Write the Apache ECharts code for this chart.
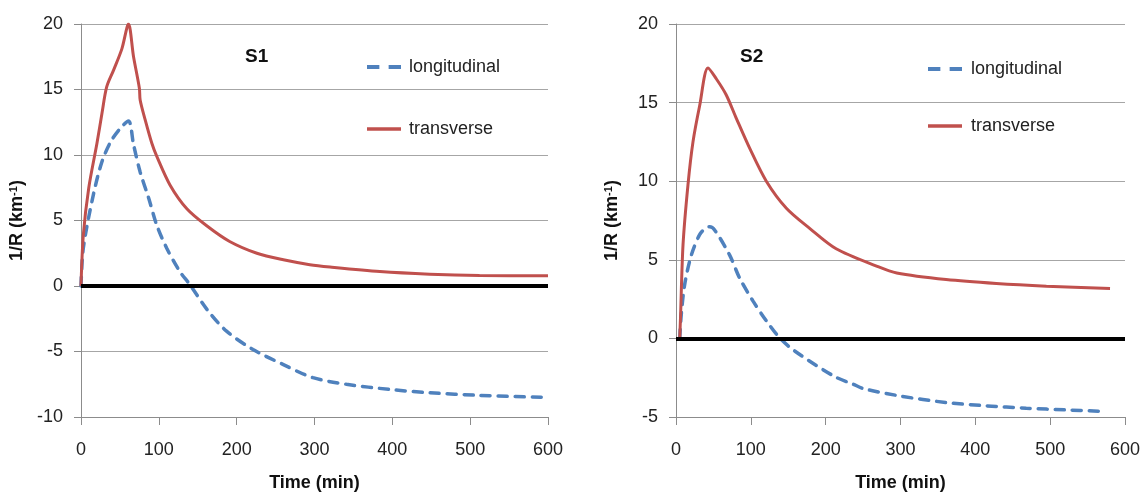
<!DOCTYPE html>
<html>
<head>
<meta charset="utf-8">
<script src="https://cdn.jsdelivr.net/npm/echarts@6/dist/echarts.min.js"></script>
<style>
  html, body { margin: 0; padding: 0; background: #fff; }
  #main { width: 1146px; height: 497px; }
</style>
</head>
<body>
<div id="main"></div>
<script>
// S1 panel
var s1LongTime = [0, 3, 16, 27, 38, 50, 61, 67.5, 76, 87, 97, 110, 127, 140, 162, 187, 221, 260, 298, 341, 397, 448, 512, 593];
var s1Long     = [0, 2.9, 7.0, 9.5, 11.0, 12.0, 12.6, 10.8, 8.7, 6.7, 4.7, 2.9, 1.1, 0.1, -1.8, -3.45, -4.85, -6.0, -7.0, -7.5, -7.9, -8.15, -8.35, -8.5];
var s1TransTime = [0, 3, 10, 20.5, 27, 33, 42, 52.5, 61, 67.5, 75, 76, 82.4, 91, 97.4, 114.5, 136, 161.5, 191, 226, 260, 294, 320, 384, 448, 512, 600];
var s1Trans     = [0, 3.9, 7.5, 10.9, 13.2, 15.2, 16.5, 18.1, 20.0, 17.5, 15.1, 14.2, 12.7, 10.9, 9.9, 7.7, 5.9, 4.6, 3.4, 2.5, 2.0, 1.63, 1.45, 1.1, 0.9, 0.8, 0.78];

// S2 panel
var s2LongTime = [5, 7, 11.5, 20.5, 31.6, 40.5, 45, 51.6, 71.7, 85, 103, 121, 138.5, 158.6, 211, 237, 251, 299, 361, 415, 468, 522, 566];
var s2Long     = [0, 1.5, 3.4, 5.3, 6.6, 7.06, 7.1, 6.9, 5.3, 3.84, 2.37, 1.1, 0.04, -0.8, -2.4, -2.92, -3.2, -3.66, -4.08, -4.29, -4.44, -4.55, -4.63];
var s2TransTime = [5, 6, 9.4, 16, 22.7, 31.6, 42.8, 54, 67, 80.6, 98.4, 120.7, 147.5, 178.6, 214, 268, 295, 361, 428, 495, 580];
var s2Trans     = [0, 1.3, 5.96, 9.77, 12.5, 14.8, 17.2, 16.5, 15.5, 14.0, 12.1, 10.0, 8.28, 7.0, 5.7, 4.6, 4.16, 3.74, 3.49, 3.32, 3.17];

var timeTicks = [0, 100, 200, 300, 400, 500, 600];
var panelTitles = ['S1', 'S2'];
var seriesNames = ['longitudinal', 'transverse'];

function pairs(xs, ys) {
    return xs.map(function (x, i) { return [x, ys[i]]; });
}

var FONT = '"Liberation Sans", Arial, sans-serif';
var gridColor = '#a6a6a6';
var blue = '#4f81bd', red = '#c0504d';
var dashIcon = 'path://M0,0H12V4H0Z M21,0H33V4H21Z';
var solidIcon = 'path://M0,0H38V4H0Z';

function xAxisFor(idx) {
    return {
        gridIndex: idx, type: 'value',
        min: timeTicks[0], max: timeTicks[timeTicks.length - 1], interval: 100,
        name: 'Time (min)', nameLocation: 'middle', nameGap: 57,
        nameTextStyle: { fontFamily: FONT, fontSize: 18, fontWeight: 'bold', color: '#111' },
        axisLine: { show: true, onZero: false, lineStyle: { color: '#8c8c8c', width: 1 } },
        axisTick: { show: true, length: 8, lineStyle: { color: '#8c8c8c' } },
        axisLabel: { fontFamily: FONT, fontSize: 18, color: '#222', margin: 24 },
        splitLine: { show: false }
    };
}

function yAxisFor(idx, min) {
    return {
        gridIndex: idx, type: 'value', min: min, max: 20, interval: 5,
        name: '1/R (km{sup|-1})', nameLocation: 'middle', nameGap: 54,
        nameTextStyle: {
            fontFamily: FONT, fontSize: 18, fontWeight: 'bold', color: '#111',
            rich: { sup: { fontFamily: FONT, fontSize: 11, fontWeight: 'bold', color: '#111', verticalAlign: 'top', padding: [0, 0, 8, 0] } }
        },
        axisLine: { show: true, lineStyle: { color: '#8c8c8c', width: 1 } },
        axisTick: { show: true, length: 7, lineStyle: { color: '#8c8c8c' } },
        axisLabel: { fontFamily: FONT, fontSize: 18, color: '#222', margin: 18 },
        splitLine: { show: true, lineStyle: { color: gridColor, width: 1 } }
    };
}

function longSeries(idx, data) {
    return {
        name: seriesNames[0], type: 'line', xAxisIndex: idx, yAxisIndex: idx,
        data: data, showSymbol: false, symbol: 'none', silent: true,
        smooth: 0.3,
        itemStyle: { color: blue },
        lineStyle: { color: blue, width: 3.5, type: [9, 8], cap: 'round' }
    };
}

function transSeries(idx, data) {
    return {
        name: seriesNames[1], type: 'line', xAxisIndex: idx, yAxisIndex: idx,
        data: data, showSymbol: false, symbol: 'none', silent: true,
        smooth: 0.3,
        itemStyle: { color: red },
        lineStyle: { color: red, width: 3 },
        markLine: {
            silent: true, symbol: 'none', label: { show: false },
            lineStyle: { color: '#000', width: 4, type: 'solid' },
            data: [{ yAxis: 0 }]
        }
    };
}

function legendFor(left, top, gap, textPad) {
    return {
        left: left, top: top, orient: 'vertical', itemGap: gap,
        itemWidth: 34, itemHeight: 14, itemStyle: { borderWidth: 0 },
        textStyle: { fontFamily: FONT, fontSize: 18, color: '#222', padding: [0, 0, 0, textPad] },
        data: [
            { name: seriesNames[0], icon: dashIcon },
            { name: seriesNames[1], icon: solidIcon }
        ],
        selectedMode: false
    };
}

var ec = echarts.init(document.getElementById('main'), null, { renderer: 'canvas' });
ec.setOption({
    animation: false,
    backgroundColor: '#fff',
    title: [
        { text: panelTitles[0], left: 240, top: 42, textStyle: { fontFamily: FONT, fontSize: 19, fontWeight: 'bold', color: '#111' } },
        { text: panelTitles[1], left: 735, top: 42, textStyle: { fontFamily: FONT, fontSize: 19, fontWeight: 'bold', color: '#111' } }
    ],
    legend: [legendFor(362, 53, 44, 3), legendFor(923, 55, 39, 4)],
    grid: [
        { left: 81, top: 24, width: 467, height: 394 },
        { left: 676, top: 24, width: 449, height: 394 }
    ],
    xAxis: [xAxisFor(0), xAxisFor(1)],
    yAxis: [yAxisFor(0, -10), yAxisFor(1, -5)],
    series: [
        longSeries(0, pairs(s1LongTime, s1Long)),
        transSeries(0, pairs(s1TransTime, s1Trans)),
        longSeries(1, pairs(s2LongTime, s2Long)),
        transSeries(1, pairs(s2TransTime, s2Trans))
    ]
});
</script>
</body>
</html>
